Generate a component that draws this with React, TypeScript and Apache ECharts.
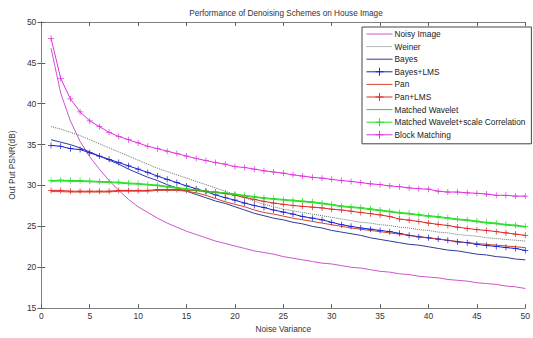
import React, { useEffect, useRef } from "react";
import * as echarts from "echarts";

const X = Array.from({ length: 50 }, (_, i) => i + 1);

const noisyImage = [46.8, 41.3, 37.9, 35.4, 33.5, 32.0, 30.6, 29.4, 28.3, 27.4, 26.7, 26.0, 25.4, 24.9, 24.4, 24.0, 23.6, 23.2, 22.9, 22.6, 22.3, 22.0, 21.8, 21.6, 21.3, 21.1, 20.9, 20.7, 20.5, 20.4, 20.2, 20.0, 19.9, 19.7, 19.5, 19.4, 19.2, 19.1, 18.9, 18.8, 18.7, 18.5, 18.4, 18.3, 18.1, 18.0, 17.9, 17.7, 17.6, 17.4];
const weiner = [37.2, 36.9, 36.5, 36.1, 35.6, 35.1, 34.6, 34.1, 33.6, 33.1, 32.6, 32.1, 31.7, 31.3, 30.9, 30.5, 30.1, 29.7, 29.3, 28.9, 28.5, 28.1, 27.7, 27.4, 27.1, 26.9, 26.7, 26.5, 26.3, 26.1, 25.9, 25.7, 25.5, 25.4, 25.2, 25.1, 24.9, 24.8, 24.6, 24.5, 24.3, 24.2, 24.0, 23.9, 23.8, 23.6, 23.5, 23.4, 23.3, 23.2];
const bayes = [35.6, 35.3, 35.0, 34.6, 34.1, 33.6, 33.1, 32.6, 32.0, 31.5, 31.0, 30.6, 30.1, 29.7, 29.3, 28.9, 28.5, 28.1, 27.8, 27.4, 27.0, 26.6, 26.3, 26.0, 25.8, 25.5, 25.3, 25.0, 24.8, 24.5, 24.3, 24.1, 23.9, 23.6, 23.4, 23.2, 23.0, 22.8, 22.7, 22.5, 22.3, 22.1, 22.0, 21.8, 21.6, 21.5, 21.3, 21.2, 21.0, 20.9];
const bayesLms = [34.9, 34.8, 34.5, 34.4, 34.0, 33.6, 33.2, 32.8, 32.4, 32.0, 31.6, 31.15, 30.75, 30.35, 29.95, 29.6, 29.25, 28.85, 28.5, 28.2, 27.85, 27.55, 27.3, 27.0, 26.75, 26.5, 26.2, 26.0, 25.8, 25.5, 25.2, 25.0, 24.8, 24.65, 24.5, 24.35, 24.15, 23.9, 23.7, 23.6, 23.45, 23.3, 23.1, 23.0, 22.8, 22.65, 22.55, 22.4, 22.3, 22.05];
const pan = [29.25, 29.25, 29.2, 29.2, 29.2, 29.2, 29.2, 29.3, 29.3, 29.3, 29.3, 29.4, 29.4, 29.4, 29.3, 29.1, 28.8, 28.4, 28.0, 27.7, 27.4, 27.0, 26.7, 26.5, 26.25, 26.0, 25.8, 25.6, 25.4, 25.2, 25.0, 24.8, 24.65, 24.5, 24.35, 24.2, 24.05, 23.9, 23.75, 23.6, 23.45, 23.3, 23.15, 23.0, 22.9, 22.8, 22.7, 22.6, 22.5, 22.4];
const panLms = [29.4, 29.4, 29.3, 29.3, 29.3, 29.3, 29.3, 29.4, 29.4, 29.4, 29.4, 29.5, 29.5, 29.5, 29.4, 29.4, 29.3, 29.2, 29.0, 28.8, 28.55, 28.3, 28.05, 27.85, 27.7, 27.55, 27.45, 27.35, 27.25, 27.1, 27.0, 26.85, 26.7, 26.55, 26.4, 26.2, 25.9, 25.75, 25.6, 25.4, 25.25, 25.1, 24.9, 24.75, 24.6, 24.5, 24.35, 24.2, 24.05, 23.9];
const matchedWavelet = [30.5, 30.55, 30.5, 30.5, 30.45, 30.4, 30.35, 30.3, 30.2, 30.15, 30.05, 29.95, 29.8, 29.65, 29.5, 29.35, 29.2, 29.1, 29.0, 28.85, 28.7, 28.55, 28.4, 28.3, 28.2, 28.1, 28.0, 27.9, 27.75, 27.6, 27.4, 27.3, 27.2, 27.05, 26.9, 26.75, 26.6, 26.5, 26.35, 26.2, 26.1, 25.95, 25.8, 25.7, 25.55, 25.4, 25.3, 25.15, 25.05, 24.9];
const matchedWaveletScale = [30.6, 30.65, 30.6, 30.6, 30.55, 30.5, 30.45, 30.4, 30.3, 30.25, 30.15, 30.05, 29.9, 29.75, 29.6, 29.45, 29.3, 29.2, 29.1, 28.95, 28.8, 28.65, 28.5, 28.4, 28.3, 28.2, 28.1, 28.0, 27.85, 27.7, 27.5, 27.4, 27.3, 27.15, 27.0, 26.85, 26.7, 26.6, 26.45, 26.3, 26.2, 26.05, 25.9, 25.8, 25.65, 25.5, 25.4, 25.25, 25.15, 25.0];
const blockMatching = [48.0, 43.1, 40.6, 39.0, 37.9, 37.2, 36.5, 36.0, 35.6, 35.2, 34.8, 34.5, 34.2, 33.9, 33.6, 33.3, 33.05, 32.8, 32.6, 32.3, 32.2, 32.0, 31.8, 31.65, 31.5, 31.3, 31.15, 31.0, 30.9, 30.75, 30.6, 30.5, 30.35, 30.2, 30.1, 29.95, 29.85, 29.7, 29.6, 29.55, 29.3, 29.2, 29.2, 29.1, 29.05, 28.95, 28.8, 28.8, 28.7, 28.7];

const legendNames = [
  "Noisy Image",
  "Weiner",
  "Bayes",
  "Bayes+LMS",
  "Pan",
  "Pan+LMS",
  "Matched Wavelet",
  "Matched Wavelet+scale Correlation",
  "Block Matching",
];
const withMarkers = ["Bayes+LMS", "Pan+LMS", "Matched Wavelet+scale Correlation", "Block Matching"];

const PLUS = "path://M4.4,0H5.6V4.4H10V5.6H5.6V10H4.4V5.6H0V4.4H4.4Z";

const FONT = "'Liberation Sans', Arial, sans-serif";

export default function App() {
  const ref = useRef<HTMLDivElement>(null);
  useEffect(() => {
    if (!ref.current) return;
    const chart = echarts.init(ref.current, undefined, { renderer: "svg" });
    const pts = (arr: number[]) => X.map((x, i) => [x, arr[i]]);
    const lineS = (name: string, arr: number[], color: string, dotted = false) => {
      const marker = withMarkers.includes(name);
      return {
        name,
        type: "line",
        data: pts(arr),
        xAxisIndex: 0,
        yAxisIndex: 0,
        symbol: marker ? PLUS : "none",
        symbolSize: 6,
        showSymbol: marker,
        lineStyle: { color, width: 1, type: dotted ? "dotted" : "solid" },
        itemStyle: { color },
        emphasis: { disabled: true },
      };
    };
    const axisCommon = {
      axisLine: { show: true, lineStyle: { color: "#808080", width: 1 } },
      axisTick: { show: true, inside: true, length: 4, lineStyle: { color: "#606060" } },
      splitLine: { show: false },
    };
    chart.setOption({
      animation: false,
      backgroundColor: "#ffffff",
      title: {
        text: "Performance of Denoising Schemes on House Image",
        left: 281,
        textAlign: "center",
        top: 4,
        textStyle: { fontSize: 8.2, fontWeight: "normal", color: "#333", fontFamily: FONT },
      },
      grid: { left: 33, right: 4, top: 22, bottom: 27 },
      legend: {
        orient: "vertical",
        left: 362,
        top: 27,
        width: 165,
        padding: [2, 6, 4, 4],
        itemGap: 2.6,
        itemWidth: 26,
        itemHeight: 10,
        backgroundColor: "#ffffff",
        borderColor: "#444",
        borderWidth: 1,
        borderRadius: 0,
        lineStyle: { width: 1 },
        textStyle: { fontSize: 8.3, color: "#222", fontFamily: FONT, padding: [0, 0, 0, -3], lineHeight: 10 },
        data: legendNames.map((n) =>
          withMarkers.includes(n) ? { name: n } : { name: n, itemStyle: { opacity: 0 } }
        ),
      },
      xAxis: [
        {
          type: "value",
          min: 0,
          max: 50,
          interval: 5,
          position: "bottom",
          name: "Noise Variance",
          nameLocation: "middle",
          nameGap: 15,
          nameTextStyle: { fontSize: 8.3, color: "#333", fontFamily: FONT },
          axisLabel: { fontSize: 8.5, color: "#333", margin: 3, fontFamily: FONT },
          ...axisCommon,
        },
        {
          type: "value",
          min: 0,
          max: 50,
          interval: 5,
          position: "top",
          axisLabel: { show: false },
          ...axisCommon,
        },
      ],
      yAxis: [
        {
          type: "value",
          min: 15,
          max: 50,
          interval: 5,
          position: "left",
          name: "Out Put PSNR(dB)",
          nameLocation: "middle",
          nameGap: 16,
          nameTextStyle: { fontSize: 8.3, color: "#333", fontFamily: FONT },
          axisLabel: { fontSize: 8.5, color: "#333", margin: 5, fontFamily: FONT },
          ...axisCommon,
        },
        {
          type: "value",
          min: 15,
          max: 50,
          interval: 5,
          position: "right",
          axisLabel: { show: false },
          ...axisCommon,
        },
      ],
      series: [
        lineS("Noisy Image", noisyImage, "#cc55cc"),
        lineS("Weiner", weiner, "#667766", true),
        lineS("Bayes", bayes, "#2e3a9a"),
        lineS("Bayes+LMS", bayesLms, "#1a22cc"),
        lineS("Pan", pan, "#d0452e"),
        lineS("Pan+LMS", panLms, "#e02828"),
        lineS("Matched Wavelet", matchedWavelet, "#3ccc3c"),
        lineS("Matched Wavelet+scale Correlation", matchedWaveletScale, "#22e022"),
        lineS("Block Matching", blockMatching, "#dd33dd"),
      ],
    });
    return () => chart.dispose();
  }, []);
  return <div ref={ref} style={{ width: 533, height: 338, position: "absolute", left: 0, top: 0 }} />;
}
